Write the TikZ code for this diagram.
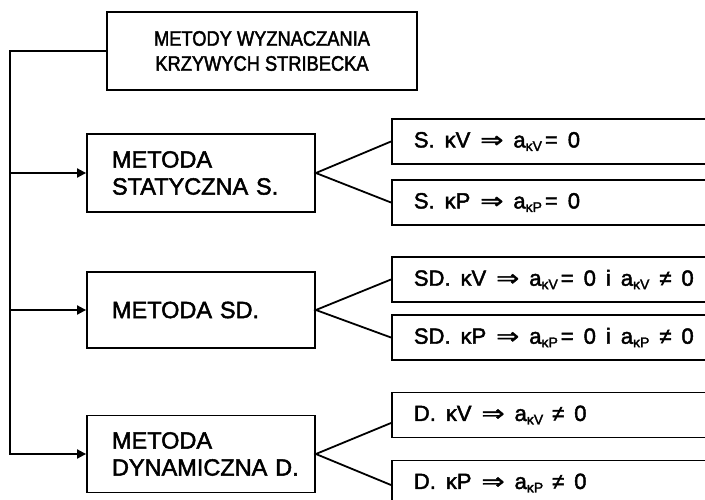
\documentclass[tikz,border=0pt]{standalone}
\usepackage{fontspec}
\setmainfont{Liberation Sans}[FakeBold=2]
\newfontfamily\narrowfont{Liberation Sans}[FakeStretch=0.87,FakeBold=2]
\newfontfamily\symfont{DejaVu Sans}[FakeBold=1.5]
\usetikzlibrary{arrows.meta,calc}

% subscript index such as a_{kV}
\newcommand{\idx}[1]{\raisebox{-3.5pt}{\fontsize{14}{14}\selectfont #1}}
\newcommand{\impl}{\scalebox{1.25}[1]{\symfont\char"21D2}}
\newcommand{\widespaces}{\spaceskip=10pt plus 1pt\relax}

\tikzset{
  line/.style={line width=1.8pt},
  arr/.style={line, -{Triangle[length=9pt,width=9pt]}},
  topbox/.style={draw, line width=1.8pt, minimum width=310pt, minimum height=78pt,
    align=center, font=\fontsize{21}{25}\selectfont\narrowfont},
  methbox/.style={draw, line width=1.8pt, inner xsep=25pt,
    text width=178pt, align=left, font=\fontsize{23.5}{27}\selectfont},
  resbox/.style={draw, line width=1.8pt, anchor=west, minimum height=45pt,
    inner xsep=22pt, text width=300pt, align=left,
    font=\fontsize{22}{25}\selectfont, execute at begin node=\widespaces}
}

\begin{document}
\begin{tikzpicture}[x=1pt,y=-1pt]
  \useasboundingbox (0,0) rectangle (705,499);
  \clip (0,0) rectangle (705,499);
  \fill[white] (0,0) rectangle (705,499);

  % title
  \node[topbox] (top) at (262,51) {METODY WYZNACZANIA\\KRZYWYCH STRIBECKA};

  % the three methods
  \node[methbox, minimum height=78pt] (l1) at (201,173) {METODA\\STATYCZNA~S.};
  \node[methbox, minimum height=76pt] (l2) at (201,310) {METODA~SD.};
  \node[methbox, minimum height=77pt] (l3) at (201,454) {METODA\\DYNAMICZNA~D.};

  % results for each method
  \node[resbox] (r1) at (391,141.5) {S. κV \impl{} a\idx{κV}\kern3pt= 0};
  \node[resbox] (r2) at (391,202.5) {S. κP \impl{} a\idx{κP}\kern3pt= 0};
  \node[resbox] (r3) at (391,279.5) {SD. κV \impl{} a\idx{κV}\kern3pt= 0 i a\idx{κV} ≠ 0};
  \node[resbox] (r4) at (391,337.5) {SD. κP \impl{} a\idx{κP}\kern3pt= 0 i a\idx{κP} ≠ 0};
  \node[resbox] (r5) at (391,415) {D. κV \impl{} a\idx{κV}\kern9pt ≠ 0};
  \node[resbox] (r6) at (391,483) {D. κP \impl{} a\idx{κP}\kern9pt ≠ 0};

  % trunk on the left
  \coordinate (tk) at (10,0);
  \draw[arr] (top.west) -| (l3.west -| tk) -- (l3.west);
  \draw[arr] (l1.west -| tk) -- (l1.west);
  \draw[arr] (l2.west -| tk) -- (l2.west);

  % forks towards the results
  \coordinate (d5) at (391,423);
  \coordinate (d6) at (391,485);
  \draw[line] (r1.west) -- (l1.east) -- (r2.west);
  \draw[line] (r3.west) -- (l2.east) -- (r4.west);
  \draw[line] (d5) -- (l3.east) -- (d6);
\end{tikzpicture}
\end{document}
